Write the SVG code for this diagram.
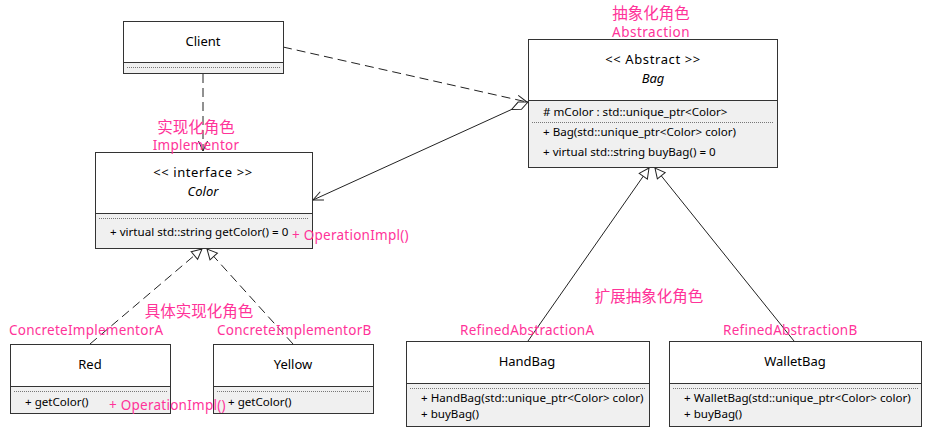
<svg xmlns="http://www.w3.org/2000/svg" width="926" height="429" viewBox="0 0 926 429">
<defs>
<style>
.box{fill:#fff;stroke:#333;stroke-width:1}
.cmp{fill:#f0f0f0;stroke:#333;stroke-width:1}
.dot{stroke:#777;stroke-width:1;stroke-dasharray:1,1}
.t{font-family:"Noto Sans","Open Sans",sans-serif;font-size:11.6px;fill:#000}
.n{font-family:"Noto Sans","Open Sans",sans-serif;font-size:13px;fill:#000;text-anchor:middle}
.s{letter-spacing:0.6px}
.i{font-style:italic}
.pc{font-family:"Noto Sans CJK SC","Noto Sans",sans-serif;font-size:15.5px;fill:#ff3399;text-anchor:middle}
.pl{font-family:"Noto Sans","Open Sans",sans-serif;font-size:13.5px;letter-spacing:0.25px;fill:#ff3399}
.c{fill:none;stroke:#222;stroke-width:1}
.d{stroke-dasharray:9,5}
</style>
<marker id="open" viewBox="-12 -7 14 14" refX="0" refY="0" markerWidth="14" markerHeight="14" markerUnits="userSpaceOnUse" orient="auto">
<path d="M-10,-4.5 L0,0 L-10,4.5" fill="none" stroke="#222" stroke-width="1"/>
</marker>
<marker id="tri" viewBox="-13 -8 15 16" refX="0" refY="0" markerWidth="15" markerHeight="16" markerUnits="userSpaceOnUse" orient="auto">
<path d="M-10,-5 L0,0 L-10,5 Z" fill="#fff" stroke="#222" stroke-width="1"/>
</marker>
<marker id="dia" viewBox="-2 -6 22 12" refX="0" refY="0" markerWidth="22" markerHeight="12" markerUnits="userSpaceOnUse" orient="auto">
<path d="M0,0 L9,-4 L18,0 L9,4 Z" fill="#fff" stroke="#222" stroke-width="1"/>
</marker>
</defs>
<rect width="926" height="429" fill="#fff"/>

<g id="connectors">
<path class="c d" d="M283,47 L527,102" marker-end="url(#open)"/>
<path class="c d" d="M203,74 L203,151" marker-end="url(#open)"/>
<path class="c" d="M528,102 L313,200" marker-start="url(#dia)" marker-end="url(#open)"/>
<path class="c d" d="M90,344 L202,249" marker-end="url(#tri)"/>
<path class="c d" d="M293,344 L207,249" marker-end="url(#tri)"/>
<path class="c" d="M528,341 L649,168" marker-end="url(#tri)"/>
<path class="c" d="M794,341 L655,168" marker-end="url(#tri)"/>
</g>

<g id="client">
<rect class="box" x="123.5" y="21.5" width="160" height="41"/>
<rect class="cmp" x="123.5" y="62.5" width="160" height="11"/>
<line class="dot" x1="127" y1="67.5" x2="280" y2="67.5"/>
<text class="n" x="203" y="46">Client</text>
</g>

<g id="color">
<rect class="box" x="95.5" y="152.5" width="217" height="61"/>
<rect class="cmp" x="95.5" y="213.5" width="217" height="35"/>
<line class="dot" x1="99" y1="218.5" x2="309" y2="218.5"/>
<text class="n s" x="203" y="177">&lt;&lt; interface &gt;&gt;</text>
<text class="n i" x="203" y="196">Color</text>
<text class="t" x="110" y="236">+ virtual std::string getColor() = 0</text>
</g>

<g id="bag">
<rect class="box" x="528.5" y="39.5" width="249" height="61"/>
<rect class="cmp" x="528.5" y="100.5" width="249" height="67"/>
<line class="dot" x1="532" y1="122.5" x2="774" y2="122.5"/>
<text class="n s" x="653" y="64">&lt;&lt; Abstract &gt;&gt;</text>
<text class="n i" x="653" y="83">Bag</text>
<text class="t" x="543" y="116"># mColor : std::unique_ptr&lt;Color&gt;</text>
<text class="t" x="543" y="136">+ Bag(std::unique_ptr&lt;Color&gt; color)</text>
<text class="t" x="543" y="156">+ virtual std::string buyBag() = 0</text>
</g>

<g id="red">
<rect class="box" x="10.5" y="344.5" width="160" height="42"/>
<rect class="cmp" x="10.5" y="386.5" width="160" height="27"/>
<line class="dot" x1="14" y1="391.5" x2="167" y2="391.5"/>
<text class="n" x="90" y="369">Red</text>
<text class="t" x="25" y="406">+ getColor()</text>
</g>

<g id="yellow">
<rect class="box" x="213.5" y="344.5" width="160" height="42"/>
<rect class="cmp" x="213.5" y="386.5" width="160" height="27"/>
<line class="dot" x1="217" y1="391.5" x2="370" y2="391.5"/>
<text class="n" x="293" y="369">Yellow</text>
<text class="t" x="228" y="406">+ getColor()</text>
</g>

<g id="handbag">
<rect class="box" x="406.5" y="341.5" width="243" height="42"/>
<rect class="cmp" x="406.5" y="383.5" width="243" height="43"/>
<line class="dot" x1="410" y1="388.5" x2="646" y2="388.5"/>
<text class="n" x="527" y="366">HandBag</text>
<text class="t" x="421" y="402">+ HandBag(std::unique_ptr&lt;Color&gt; color)</text>
<text class="t" x="421" y="418">+ buyBag()</text>
</g>

<g id="walletbag">
<rect class="box" x="669.5" y="341.5" width="252" height="42"/>
<rect class="cmp" x="669.5" y="383.5" width="252" height="43"/>
<line class="dot" x1="673" y1="388.5" x2="918" y2="388.5"/>
<text class="n" x="795" y="366">WalletBag</text>
<text class="t" x="684" y="402">+ WalletBag(std::unique_ptr&lt;Color&gt; color)</text>
<text class="t" x="684" y="418">+ buyBag()</text>
</g>

<g id="labels">
<text class="pc" x="651" y="19">抽象化角色</text>
<text class="pl" x="651" y="37" text-anchor="middle" style="letter-spacing:0.5px">Abstraction</text>
<text class="pc" x="196" y="133">实现化角色</text>
<text class="pl" x="196" y="150" text-anchor="middle">Implementor</text>
<text class="pl" x="292" y="240">+ OperationImpl()</text>
<text class="pc" x="199" y="317">具体实现化角色</text>
<text class="pl" x="9" y="335">ConcreteImplementorA</text>
<text class="pl" x="217" y="335">ConcreteImplementorB</text>
<text class="pl" x="109" y="410">+ OperationImpl()</text>
<text class="pc" x="649" y="302">扩展抽象化角色</text>
<text class="pl" x="460" y="335">RefinedAbstractionA</text>
<text class="pl" x="723" y="335">RefinedAbstractionB</text>
</g>
</svg>
